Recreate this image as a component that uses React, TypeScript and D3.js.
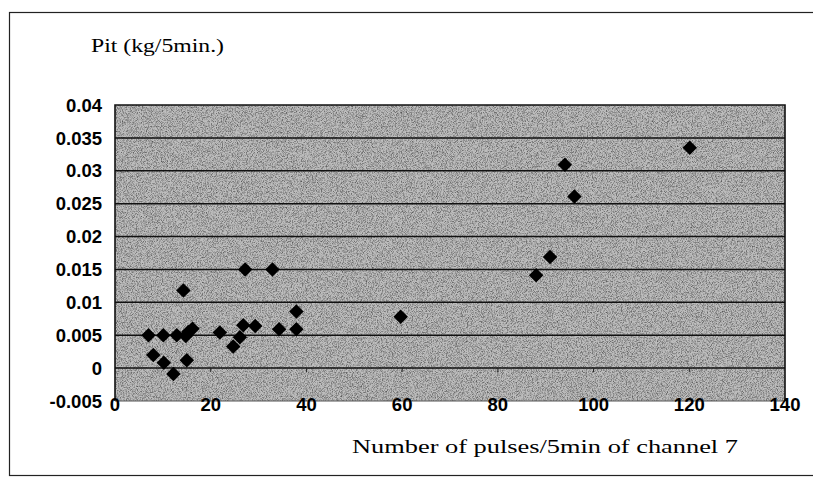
import { useEffect, useRef } from 'react';
import * as d3 from 'd3';

// pulses per 5 min (channel 7) and pit weight (kg/5min.)
const pulses = [
  7, 8, 10.1, 10.2, 12.2, 12.9, 14.3, 14.8, 15, 15.3, 16.2, 21.9, 24.7, 26.1,
  26.8, 27.2, 29.3, 32.9, 34.3, 37.9, 37.9, 59.7, 88, 90.9, 94, 96, 120.1,
];
const pit = [
  0.005, 0.002, 0.005, 0.0008, -0.0009, 0.005, 0.0118, 0.0049, 0.0012, 0.0055,
  0.006, 0.0054, 0.0033, 0.0047, 0.0065, 0.015, 0.0064, 0.015, 0.0059, 0.0086,
  0.0059, 0.0078, 0.0141, 0.0169, 0.0309, 0.0261, 0.0335,
];
const yTicks = [-0.005, 0, 0.005, 0.01, 0.015, 0.02, 0.025, 0.03, 0.035, 0.04];
const yTickLabels = ['-0.005', '0', '0.005', '0.01', '0.015', '0.02', '0.025', '0.03', '0.035', '0.04'];
const xTicks = [0, 20, 40, 60, 80, 100, 120, 140];

const width = 813,
  height = 477;
const plot = { left: 115, right: 785, top: 105, bottom: 401 };

function App() {
  const svgRef = useRef(null);

  useEffect(() => {
    const svg = d3.select(svgRef.current);
    svg.selectAll('*').remove();

    const x = d3.scaleLinear().domain([0, 140]).range([plot.left, plot.right]);
    const y = d3.scaleLinear().domain([-0.005, 0.04]).range([plot.bottom, plot.top]);

    // grainy grey fill, like the scanned plot area
    const defs = svg.append('defs');
    const f = defs.append('filter').attr('id', 'grain').attr('x', 0).attr('y', 0).attr('width', 1).attr('height', 1);
    f.append('feTurbulence')
      .attr('type', 'fractalNoise')
      .attr('baseFrequency', 1.2)
      .attr('numOctaves', 1)
      .attr('seed', 3)
      .attr('result', 'noise');
    f.append('feColorMatrix')
      .attr('in', 'noise')
      .attr('type', 'matrix')
      .attr('values', '0 0 0 0 0  0 0 0 0 0  0 0 0 0 0  2.4 0 0 0 -1.0');

    // outer frame
    svg
      .append('rect')
      .attr('x', 9.5)
      .attr('y', 12.5)
      .attr('width', width - 8)
      .attr('height', height - 14)
      .attr('fill', 'white')
      .attr('stroke', '#222')
      .attr('stroke-width', 1.2);

    svg
      .append('rect')
      .attr('x', plot.left)
      .attr('y', plot.top)
      .attr('width', plot.right - plot.left)
      .attr('height', plot.bottom - plot.top)
      .attr('fill', '#bdbdbd');
    svg
      .append('rect')
      .attr('x', plot.left)
      .attr('y', plot.top)
      .attr('width', plot.right - plot.left)
      .attr('height', plot.bottom - plot.top)
      .attr('fill', 'black')
      .attr('filter', 'url(#grain)')
      .attr('opacity', 0.55);

    // horizontal gridlines
    svg
      .append('g')
      .selectAll('line')
      .data(yTicks.filter((t) => t > -0.005 && t < 0.04))
      .join('line')
      .attr('x1', plot.left)
      .attr('x2', plot.right)
      .attr('y1', (d) => y(d))
      .attr('y2', (d) => y(d))
      .attr('stroke', '#111')
      .attr('stroke-width', 1.5);

    // plot border
    svg
      .append('path')
      .attr('d', `M${plot.left},${plot.bottom}V${plot.top}H${plot.right}V${plot.bottom}`)
      .attr('fill', 'none')
      .attr('stroke', '#111')
      .attr('stroke-width', 1.6);
    svg
      .append('line')
      .attr('x1', plot.left)
      .attr('x2', plot.right)
      .attr('y1', plot.bottom)
      .attr('y2', plot.bottom)
      .attr('stroke', '#555')
      .attr('stroke-width', 1);

    // small ticks on the zero line
    svg
      .append('g')
      .selectAll('line')
      .data(xTicks.slice(1, -1))
      .join('line')
      .attr('x1', (d) => x(d))
      .attr('x2', (d) => x(d))
      .attr('y1', y(0))
      .attr('y2', y(0) + 4)
      .attr('stroke', '#222')
      .attr('stroke-width', 1);

    // y tick labels
    svg
      .append('g')
      .selectAll('text')
      .data(yTicks)
      .join('text')
      .attr('x', 102)
      .attr('y', (d) => y(d))
      .attr('dy', '0.36em')
      .attr('text-anchor', 'end')
      .style('font-family', 'Liberation Sans, Arial, sans-serif')
      .style('font-size', '18.5px')
      .style('font-weight', 'bold')
      .text((d, i) => yTickLabels[i]);

    // x tick labels
    svg
      .append('g')
      .selectAll('text')
      .data(xTicks)
      .join('text')
      .attr('x', (d) => x(d))
      .attr('y', plot.bottom + 3)
      .attr('dy', '0.36em')
      .attr('text-anchor', 'middle')
      .style('font-family', 'Liberation Sans, Arial, sans-serif')
      .style('font-size', '18.5px')
      .style('font-weight', 'bold')
      .text((d) => d);

    // points
    const diamond = d3.symbol(d3.symbolSquare, 105);
    svg
      .append('g')
      .selectAll('path')
      .data(pulses.map((p, i) => [p, pit[i]]))
      .join('path')
      .attr('d', diamond)
      .attr('transform', (d) => `translate(${x(d[0])},${y(d[1])}) rotate(45)`)
      .attr('fill', 'black');

    // axis titles
    svg
      .append('text')
      .attr('x', 91)
      .attr('y', 52)
      .style('font-family', 'Liberation Serif, Times New Roman, serif')
      .style('font-size', '18px')
      .attr('textLength', 133)
      .attr('lengthAdjust', 'spacingAndGlyphs')
      .text('Pit (kg/5min.)');

    svg
      .append('text')
      .attr('x', 352)
      .attr('y', 453)
      .style('font-family', 'Liberation Serif, Times New Roman, serif')
      .style('font-size', '19px')
      .attr('textLength', 386)
      .attr('lengthAdjust', 'spacingAndGlyphs')
      .text('Number of pulses/5min of channel 7');
  }, []);

  return (
    <svg
      ref={svgRef}
      width={width}
      height={height}
      viewBox={`0 0 ${width} ${height}`}
      style={{ position: 'absolute', left: 0, top: 0 }}
    ></svg>
  );
}

export default App;
